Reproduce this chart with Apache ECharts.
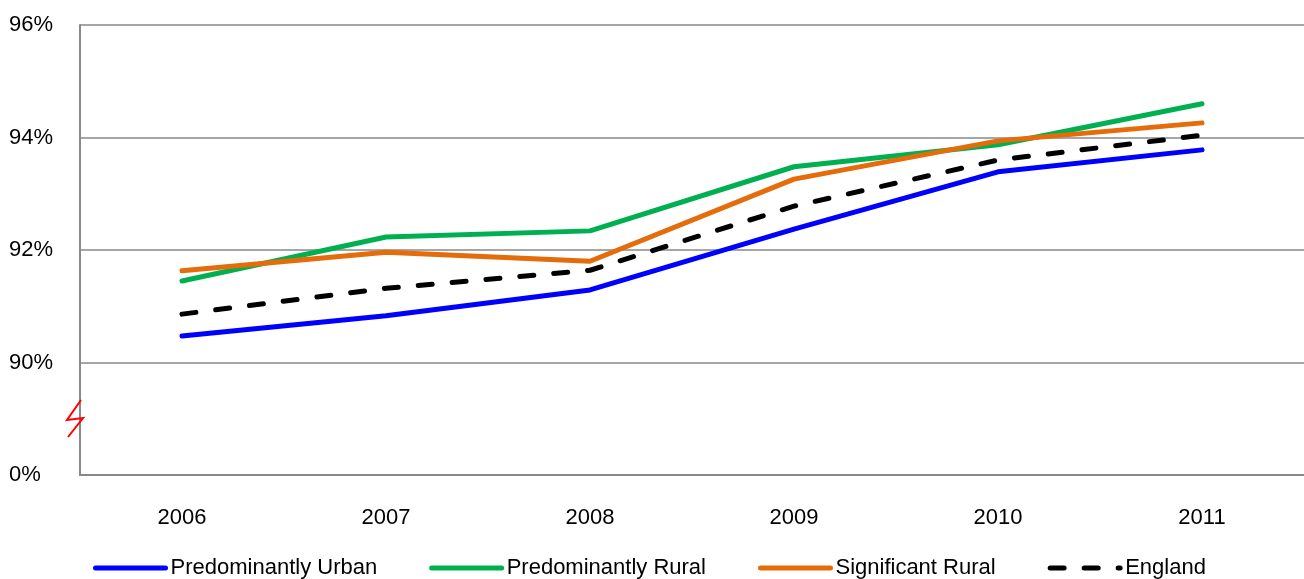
<!DOCTYPE html>
<html>
<head>
<meta charset="utf-8">
<script src="https://cdn.jsdelivr.net/npm/echarts@6/dist/echarts.min.js"></script>
<style>
  html, body { margin: 0; padding: 0; background: #fff; }
  #chart { width: 1304px; height: 579px; }
</style>
</head>
<body>
<div id="chart"></div>
<script>
// 数据
var years = ['2006', '2007', '2008', '2009', '2010', '2011'];
var urban = [90.47, 90.83, 91.29, 92.37, 93.39, 93.78];
var rural = [91.45, 92.23, 92.34, 93.48, 93.87, 94.60];
var sigRural = [91.63, 91.96, 91.80, 93.26, 93.94, 94.26];
var england = [90.86, 91.32, 91.64, 92.78, 93.60, 94.04];
// 断轴：最底下的刻度 88 显示为 0%
var yTicks = { 88: '0%', 90: '90%', 92: '92%', 94: '94%', 96: '96%' };

var font = 'Liberation Sans';
var grey = '#898989';

var myChart = echarts.init(document.getElementById('chart'));

function lineSeries(name, data, color, dashed) {
    return {
        name: name,
        type: 'line',
        data: data,
        symbol: 'none',
        lineStyle: {
            width: 5,
            color: color,
            type: dashed ? [14, 20] : 'solid',
            cap: 'round'
        },
        itemStyle: { color: color }
    };
}

var option = {
    animation: false,
    grid: { left: 80, top: 25, right: -4, bottom: 104 },
    legend: {
        top: 552,
        left: 88,
        itemWidth: 70,
        itemHeight: 6,
        itemGap: 52,
        itemStyle: { opacity: 0 },
        lineStyle: { width: 5 },
        textStyle: { fontFamily: font, fontSize: 22, color: '#000' },
        data: ['Predominantly Urban', 'Predominantly Rural', 'Significant Rural', 'England']
    },
    xAxis: {
        type: 'category',
        data: years,
        boundaryGap: true,
        axisLine: { lineStyle: { color: grey, width: 2 } },
        axisTick: { show: false },
        axisLabel: { margin: 32, fontFamily: font, fontSize: 22, color: '#000' }
    },
    yAxis: {
        type: 'value',
        min: 88,
        max: 96,
        interval: 2,
        axisLine: { show: true, lineStyle: { color: grey, width: 2 } },
        axisTick: { show: false },
        splitLine: { lineStyle: { color: grey, width: 1.5 } },
        axisLabel: {
            align: 'left',
            margin: 71,
            fontFamily: font,
            fontSize: 22,
            color: '#000',
            formatter: function (v) { return yTicks[v]; }
        }
    },
    graphic: [{
        type: 'polyline',
        shape: { points: [[81, 400], [67, 420], [83, 418], [68, 437]] },
        style: { stroke: '#ff0000', lineWidth: 2, fill: null },
        z: 100
    }],
    series: [
        lineSeries('Predominantly Urban', urban, '#0000ff', false),
        lineSeries('Predominantly Rural', rural, '#00b050', false),
        lineSeries('Significant Rural', sigRural, '#e46c0a', false),
        lineSeries('England', england, '#000000', true)
    ]
};
myChart.setOption(option);
</script>
</body>
</html>
